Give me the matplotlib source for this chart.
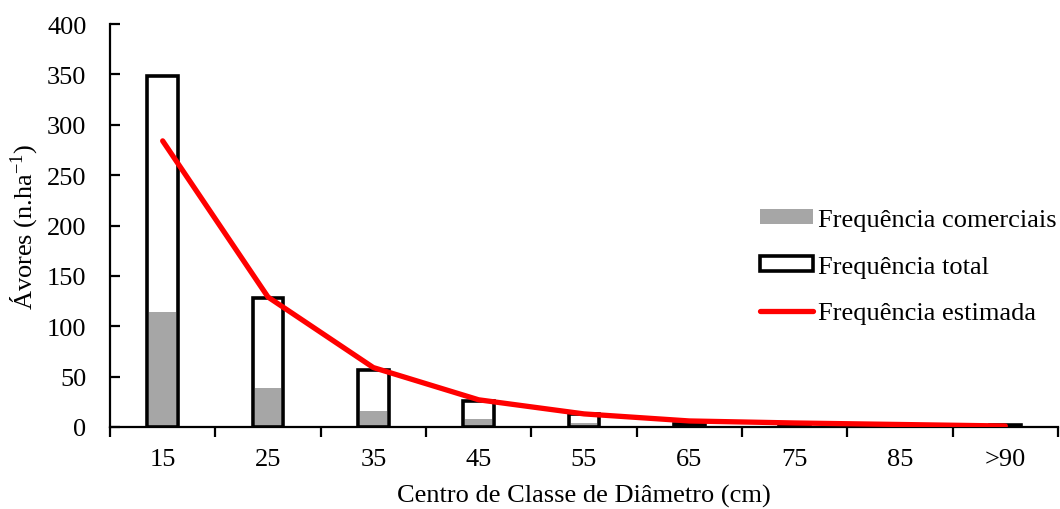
import matplotlib
matplotlib.use("Agg")
import matplotlib.pyplot as plt
from matplotlib.patches import Patch, Rectangle
from matplotlib.lines import Line2D
from matplotlib.legend_handler import HandlerPatch

# Diameter class centres (cm)
classes = ["15", "25", "35", "45", "55", "65", "75", "85", ">90"]
# Trees per hectare
freq_total = [348, 128, 57, 26, 13, 3, 1, 1, 1.5]
freq_comerciais = [114, 39, 16, 8, 4, 1, 0.5, 0.5, 0.5]
freq_estimada = [284, 129, 59, 27, 13, 6, 4, 2.5, 1]

plt.rcParams["font.family"] = ["Liberation Serif", "DejaVu Serif"]
plt.rcParams["mathtext.fontset"] = "custom"
plt.rcParams["mathtext.rm"] = "Liberation Serif"
plt.rcParams["mathtext.it"] = "Liberation Serif:italic"
plt.rcParams["mathtext.default"] = "regular"

FS = 19
GRAY = "#a6a6a6"

fig = plt.figure(figsize=(10.6, 5.1), dpi=100)
ax = fig.add_axes([110 / 1060, 1 - 428 / 510, (1058 - 110) / 1060, (428 - 25) / 510])

x = list(range(len(classes)))
bw = 0.29
inner = 0.255

ax.bar(x, freq_total, width=bw, facecolor="white", edgecolor="none", zorder=2)
ax.bar(x, freq_comerciais, width=inner, facecolor=GRAY, edgecolor="none", zorder=3)
ax.bar(x, freq_total, width=bw, facecolor="none", edgecolor="black",
       linewidth=2.6, zorder=4)
ax.plot(x, freq_estimada, color="#ff0000", linewidth=3.8,
        solid_capstyle="round", solid_joinstyle="round", zorder=5)

ax.set_xlim(-0.5, len(classes) - 0.5)
ax.set_ylim(0, 400)
ax.set_yticks(range(0, 401, 50))
ax.set_xticks(x)
ax.set_xticklabels(classes)
ax.set_xticks([i - 0.5 for i in range(len(classes) + 1)], minor=True)

ax.tick_params(axis="x", which="major", length=0, pad=15, labelsize=FS)
ax.tick_params(axis="x", which="minor", length=7, width=1.6, direction="out")
ax.tick_params(axis="y", which="major", length=7, width=1.6, direction="in",
               pad=17, labelsize=FS)

for side in ("top", "right"):
    ax.spines[side].set_visible(False)
for side in ("left", "bottom"):
    ax.spines[side].set_linewidth(1.6)

ax.set_xlabel("Centro de Classe de Diâmetro (cm)", fontsize=FS, labelpad=10)
ax.set_ylabel("Ávores (n.ha$^{-1}$)", fontsize=FS, labelpad=6)


class HandlerBox(HandlerPatch):
    def create_artists(self, legend, orig_handle, xdescent, ydescent,
                       width, height, fontsize, trans):
        r = Rectangle((-xdescent, -ydescent), width, height,
                      facecolor=orig_handle.get_facecolor(),
                      edgecolor=orig_handle.get_edgecolor(),
                      linewidth=orig_handle.get_linewidth(),
                      transform=trans)
        return [r]


h_com = Patch(facecolor=GRAY, edgecolor="none", linewidth=0)
h_tot = Patch(facecolor="white", edgecolor="black", linewidth=2.6)
h_est = Line2D([0], [0], color="#ff0000", linewidth=3.8, solid_capstyle="round")

leg = ax.legend([h_com, h_tot, h_est],
                ["Frequência comerciais", "Frequência total", "Frequência estimada"],
                handler_map={Patch: HandlerBox()},
                loc="upper left", bbox_to_anchor=(760 / 1060, 1 - 210 / 510),
                bbox_transform=fig.transFigure, frameon=False, fontsize=FS,
                handlelength=2.0, handleheight=0.5, handletextpad=0.2,
                labelspacing=0.93, borderaxespad=0, borderpad=0)

fig.savefig("out.png", dpi=100)
